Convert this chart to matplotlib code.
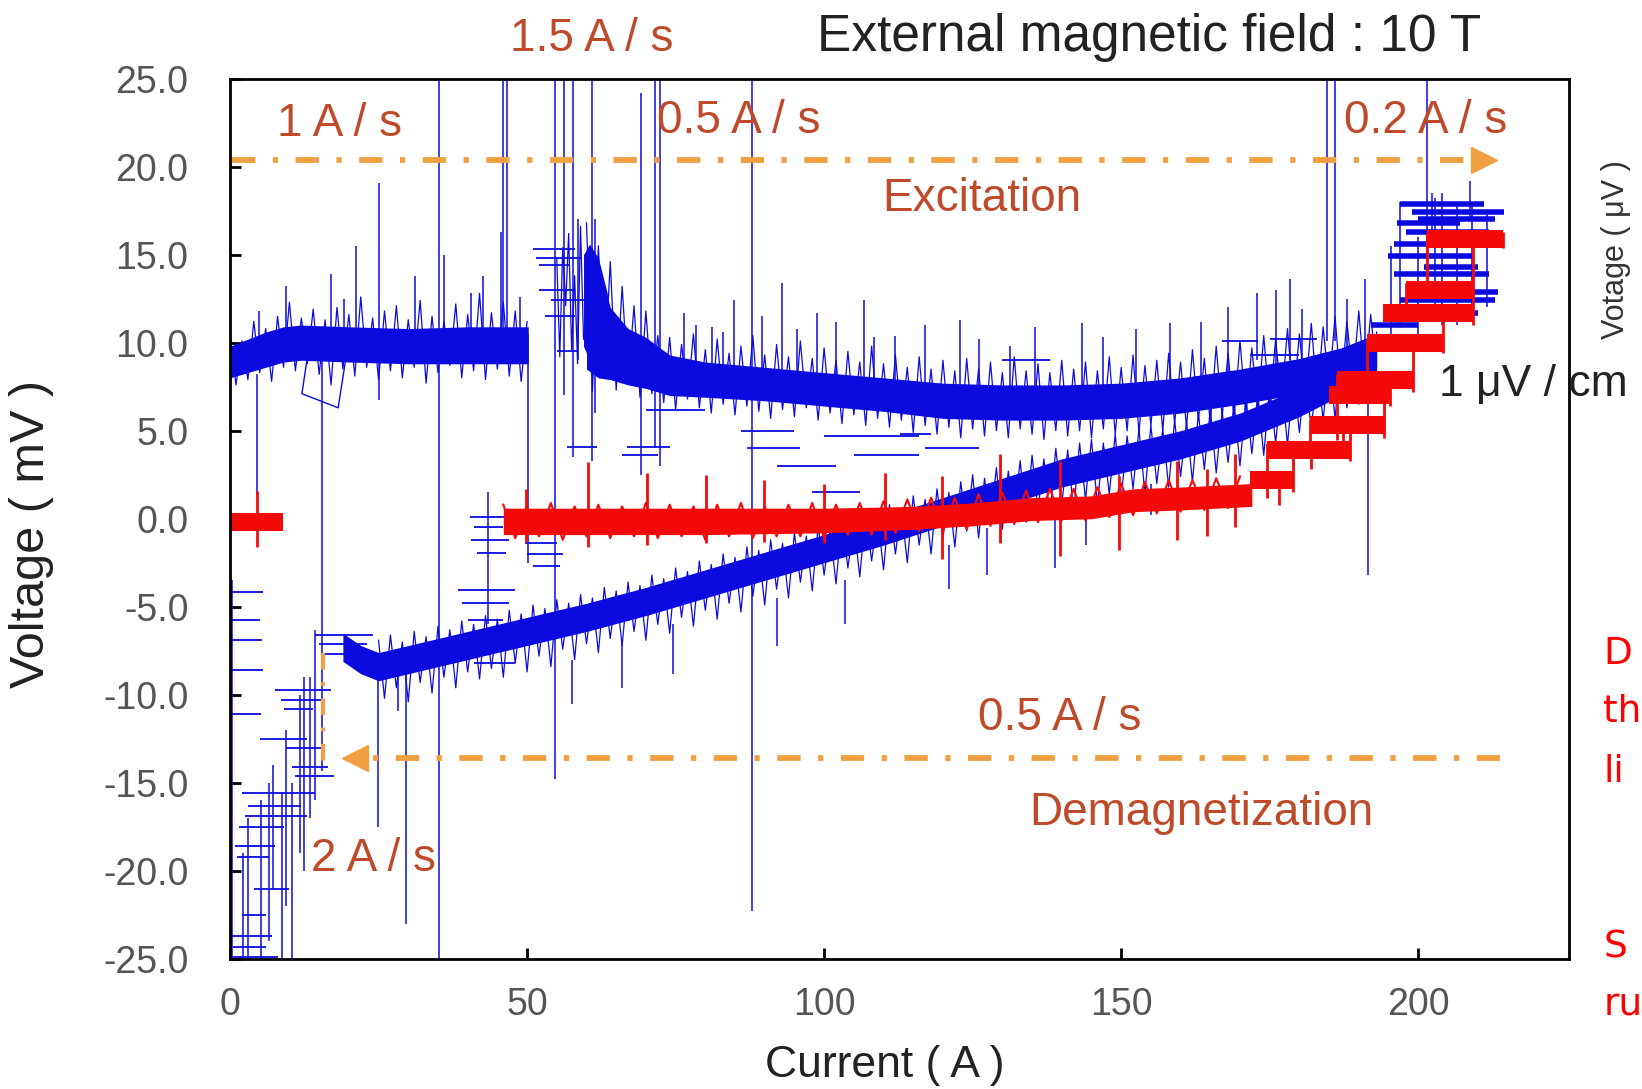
import numpy as np
import matplotlib.pyplot as plt

plt.rcParams['axes.unicode_minus'] = False
NARROW = ['Liberation Sans Narrow', 'Liberation Sans', 'DejaVu Sans']

BLUE = '#0b0be0'
RED = '#f50a0a'
ORANGE = '#f0a040'
RATE = '#bf4a2a'

# ---- values (current in A, voltage in mV) ----

# excitation, blue, 0-50 A (core of the noisy band)
ua_x = [0, 3, 6, 9, 12, 20, 30, 40, 50.2]
ua_hi = [9.8, 10.2, 10.6, 10.9, 11.0, 10.9, 10.8, 10.9, 10.9]
ua_lo = [8.0, 8.3, 8.6, 8.9, 9.0, 8.9, 8.8, 8.8, 8.8]
# sampled trace, every 1 A from 0 A
ua_trace = [10.4, 7.6, 10.1, 7.9, 11.2, 8.3, 10.8, 7.8, 11.5, 8.6, 12.3, 8.4, 11.4, 8.8, 11.9,
            8.2, 11.3, 7.6, 12.0, 8.5, 11.6, 8.1, 12.6, 8.6, 11.4, 7.9, 11.8, 8.4, 12.1, 8.0,
            11.3, 8.6, 12.4, 7.7, 11.5, 8.3, 11.2, 8.7, 12.2, 8.0, 11.6, 8.4, 12.8, 7.9, 11.7,
            8.5, 12.3, 8.1, 11.8, 7.8, 11.2]

# excitation, blue, the noisy 1.5 A/s patch
um_x = [59.5, 60.5, 62, 63.5]
um_hi = [15.0, 15.6, 14.8, 12.8]
um_lo = [9.8, 9.0, 8.6, 8.3]
# sampled trace, every 0.5 A from 55 A
um_trace = [14.8, 9.2, 15.4, 12.1, 16.2, 9.6, 13.8, 8.8, 16.6, 10.2]

# excitation, blue, 60-193 A
ub_x = [60, 62, 64, 67, 70, 74, 80, 90, 100, 110, 120, 130, 140, 150, 160, 170, 180, 187, 193]
ub_hi = [15.0, 14.5, 12.0, 10.8, 10.3, 9.3, 8.9, 8.6, 8.3, 8.0, 7.7, 7.6, 7.6, 7.7, 8.0, 8.5, 9.1, 9.7, 10.5]
ub_lo = [8.5, 8.0, 7.9, 7.6, 7.4, 7.0, 6.9, 6.7, 6.4, 6.1, 5.7, 5.6, 5.6, 5.7, 6.0, 6.5, 7.1, 7.7, 8.5]
# sampled trace, every 1 A from 60 A
ub_trace = [16.8, 7.2, 15.5, 8.0, 14.6, 7.3, 13.2, 7.8, 12.1, 6.9,
            11.8, 7.1, 10.4, 6.6, 10.3, 6.2, 9.9, 6.8, 10.5, 6.3,
            9.6, 6.0, 10.2, 6.5, 9.4, 5.9, 9.8, 6.4, 10.4, 6.1,
            9.3, 5.7, 9.9, 6.2, 9.2, 5.8, 10.1, 6.3, 9.1, 5.6,
            9.7, 6.0, 9.0, 5.4, 9.5, 5.9, 8.9, 5.3, 9.8, 5.7,
            8.8, 5.2, 9.3, 5.6, 8.6, 4.9, 9.2, 5.3, 8.5, 4.8,
            9.0, 5.2, 8.4, 4.6, 9.1, 5.1, 8.5, 4.7, 8.9, 5.0,
            8.3, 4.6, 9.2, 5.1, 8.4, 4.8, 8.8, 4.5, 8.3, 5.0,
            9.0, 4.7, 8.5, 5.0, 8.9, 4.6, 8.4, 5.1, 9.2, 4.8,
            8.6, 5.0, 9.3, 4.9, 8.7, 5.3, 9.0, 5.0, 9.4, 5.4,
            8.9, 5.2, 9.6, 5.6, 9.1, 5.4, 9.8, 5.8, 9.4, 5.7,
            10.1, 6.0, 9.7, 6.2, 10.4, 6.3, 10.2, 6.7, 10.8, 6.6,
            10.5, 7.0, 11.1, 6.9, 10.9, 7.4, 11.5, 7.3, 11.2, 7.8,
            11.8, 7.7, 11.6, 8.2]

# demagnetization, blue, 19-193 A
lb_x = [19, 22, 25, 30, 40, 50, 60, 70, 80, 90, 100, 110, 120, 130, 140, 150, 160, 170, 180, 187, 193]
lb_hi = [-6.5, -7.2, -7.6, -7.2, -6.4, -5.6, -4.8, -3.9, -2.9, -1.9, -0.9, 0.1, 1.2, 2.3, 3.4,
         4.2, 5.0, 6.0, 7.4, 8.6, 9.8]
lb_lo = [-8.1, -8.8, -9.2, -8.8, -8.0, -7.2, -6.4, -5.5, -4.5, -3.5, -2.5, -1.5, -0.4, 0.7, 1.8,
         2.6, 3.4, 4.4, 5.8, 7.0, 8.2]
# sampled trace, every 1 A from 25 A
lb_trace = [-6.9, -10.2, -6.6, -9.6, -7.0, -10.4, -6.4, -9.3, -6.7, -9.9,
            -6.1, -9.0, -6.3, -9.6, -5.8, -8.7, -6.0, -9.1, -5.5, -8.5,
            -5.7, -9.0, -5.2, -8.2, -5.4, -8.7, -4.9, -7.8, -5.1, -8.4,
            -4.6, -7.4, -4.8, -8.0, -4.3, -7.1, -4.5, -7.6, -3.9, -6.8,
            -4.1, -7.2, -3.6, -6.4, -3.8, -6.9, -3.2, -6.0, -3.4, -6.5,
            -2.8, -5.6, -3.0, -6.1, -2.4, -5.2, -2.6, -5.7, -2.0, -4.8,
            -2.2, -5.3, -1.6, -4.4, -1.8, -4.9, -1.2, -4.0, -1.4, -4.5,
            -0.8, -3.6, -1.0, -4.1, -0.4, -3.2, -0.6, -3.7, 0.0, -2.8,
            -0.2, -3.3, 0.4, -2.4, 0.2, -2.9, 0.8, -2.0, 0.6, -2.5,
            1.3, -1.5, 1.1, -2.0, 1.7, -1.1, 1.5, -1.6, 2.1, -0.7,
            2.5, -1.1, 2.3, -0.2, 2.9, -0.6, 2.7, 0.2, 3.3, -0.2,
            3.6, 0.5, 3.4, 0.1, 4.0, 0.8, 3.9, 0.4, 4.3, 1.1,
            4.5, 0.8, 4.3, 1.4, 4.8, 1.1, 4.7, 1.7, 5.1, 1.4,
            5.3, 2.0, 5.1, 1.8, 5.6, 2.4, 5.5, 2.1, 6.0, 2.8,
            6.2, 2.6, 6.1, 3.2, 6.6, 3.0, 6.9, 3.7, 7.1, 3.6,
            7.5, 4.3, 7.7, 4.2, 8.1, 4.9, 8.4, 5.0, 8.7, 5.6,
            9.1, 5.7, 9.4, 6.3, 9.8, 6.5, 10.2, 7.1, 10.6]

# blue spikes and jumps: x, from, to
bs_x = [4.6, 4.8, 9.4, 15.4, 17.0, 19.2, 21.2, 25.0, 31.2, 35.1, 36.0, 40.5, 42.5, 45.6, 45.9,
        46.6, 48.8, 50.2, 54.7, 56.2, 57.8, 58.5, 60.9, 61.5, 69.1, 71.6, 72.4, 76.4, 81.1,
        84.8, 87.9, 92.9, 98.8, 106.7, 108.4, 122.9, 131.3, 143.4, 158.3, 172.8, 178.4,
        180.4, 184.6, 186.0, 191.1, 191.6, 201.4, 202.3, 208.7, 24.9, 29.7, 28.2, 138.9,
        78.5, 83.0, 89.5, 95.5, 102.0, 112.0, 117.0, 126.0, 135.5, 147.0, 152.5, 163.5,
        168.0, 176.0, 188.0,
        57.5, 66.0, 74.5, 92.0, 103.5, 121.0, 127.5, 144.0, 155.0,
        0.3, 5.2, 8.7, 10.4, 12.5, 13.5, 14.3, 11.8, 3.0, 6.5, 9.5, 2.2, 7.2, 43.5,
        197.0, 204.0, 209.0, 211.5, 200.0, 206.5, 195.5, 202.8]
bs_y0 = [1.4, 9.5, 10.0, -14.3, 10.0, 10.0, 10.0, 6.75, 10.0, -25.0, 10.0, 10.0, 10.0, 10.0,
         9.5, 9.5, 10.0, -2.5, -14.8, 7.0, 3.5, 9.0, 3.3, 6.0, 2.5, 4.0, 3.0, 8.0, 8.0,
         8.0, -22.3, 7.5, 7.5, 7.5, 7.5, 7.0, 7.0, 7.0, 7.0, 9.0, 9.0,
         9.0, 10.1, 10.1, 10.0, -3.2, 15.4, 16.0, 17.0, -17.5, -23.0, -10.9, -2.8,
         8.0, 8.0, 8.0, 7.5, 7.5, 7.0, 7.0, 7.0, 7.0, 7.0, 7.0, 7.5,
         8.0, 8.5, 9.5,
         -10.5, -9.6, -8.8, -7.2, -6.0, -4.0, -3.2, -1.5, 0.2,
         -25.0, -25.0, -25.0, -25.0, -20.0, -17.0, -16.0, -19.0, -25.0, -24.0, -22.0, -25.0,
         -21.0, -6.0,
         11.0, 11.0, 11.5, 12.0, 10.0, 11.0, 10.5, 11.5]
bs_y1 = [8.2, 11.8, 13.2, 9.0, 13.9, 12.5, 15.5, 19.05, 13.8, 25.0, 15.0, 12.8, 13.8, 16.3,
         25.0, 25.0, 12.6, 10.5, 25.0, 25.0, 25.0, 17.0, 25.0, 17.0, 24.2, 25.0, 25.0, 11.7,
         10.9, 12.4, 25.0, 13.4, 11.7, 12.4, 10.3, 11.3, 9.8, 11.1, 11.1, 12.8, 13.6,
         11.9, 25.0, 25.0, 13.6, 9.2, 25.0, 18.5, 19.2, -8.0, -8.0, -8.0, 1.0,
         11.0, 10.6, 11.5, 10.8, 11.2, 10.4, 11.0, 10.2, 10.9, 10.3, 10.8, 11.2,
         12.0, 13.0, 12.5,
         -8.0, -7.0, -6.0, -4.5, -3.5, -1.5, -0.5, 1.0, 2.0,
         -3.5, -16.0, -15.5, -15.0, -9.0, -9.0, -6.3, -10.0, -17.0, -15.0, -12.0, -19.0,
         -14.0, 1.5,
         18.0, 18.5, 18.0, 17.5, 16.0, 17.8, 15.5, 18.2]

# blue hysteresis strokes: x start, x end, level
bh_x0 = [0.3, 0.3, 0.3, 0.3, 0.3, 14.3, 15.0, 16.0, 7.6, 8.5, 9.0, 10.4, 11.0, 2.0, 3.0, 2.5,
         0.8, 1.2, 0.3, 0.5, 0.3, 1.5, 4.0, 2.0, 5.0, 9.5,
         40.4, 41.0, 40.5, 41.5, 38.4, 39.0, 40.0, 41.0, 49.7, 50.0,
         51.0, 51.0, 52.0, 52.0, 53.0, 55.0, 56.7, 66.8, 66.0, 70.0, 86.0, 87.0, 92.0, 100.0,
         105.0, 98.0, 112.8, 117.0, 130.0, 167.0, 171.7, 175.0, 51.5, 54.0]
bh_x1 = [5.5, 5.0, 5.3, 5.5, 5.2, 24.0, 23.0, 24.4, 17.0, 16.0, 14.0, 16.5, 17.5, 14.3, 12.0,
         13.0, 7.6, 6.5, 7.0, 6.0, 8.0, 9.0, 10.0, 6.0, 13.0, 15.5,
         46.6, 46.0, 47.0, 46.5, 48.0, 47.0, 46.0, 48.0, 55.0,
         56.0, 55.5, 58.0, 57.0, 58.0, 58.0, 58.5, 61.7, 74.1, 72.0, 80.0, 95.0, 96.0, 102.0,
         116.0, 116.0, 106.0, 118.0, 126.0, 138.0, 173.0, 180.0, 183.0, 59.0, 60.0]
bh_y = [-4.15, -5.75, -6.9, -8.6, -11.1, -6.6, -7.1, -7.7, -9.7, -10.3, -10.8, -14.1, -14.6,
        -15.6, -16.3, -16.9, -18.6, -19.2, -23.7, -24.3, -24.9, -17.5, -21.0, -22.5, -12.5,
        -13.0,
        0.1, -0.45, -1.2, -1.95, -4.05, -4.8, -5.75, -8.2, -1.4, -2.0, -2.7, 15.3, 14.4,
        13.0, 11.5, 9.5, 4.1, 4.1, 3.6, 6.2, 5.0, 4.0, 3.0, 4.7, 3.6, 1.5, 4.8, 4.0, 9.0,
        10.1, 9.3, 10.2, 14.8, 12.4]

# blue cluster at the top end
bc_x0 = [197.0, 199.0, 200.0, 196.0, 195.0, 196.0, 197.0, 194.0, 192.0, 198.0, 201.0, 199.0, 196.5]
bc_x1 = [211.0, 214.4, 213.0, 211.0, 209.0, 212.0, 213.0, 210.0, 200.0, 212.0, 210.0, 213.5, 207.0]
bc_y = [17.9, 17.4, 17.0, 15.6, 14.9, 13.9, 12.4, 11.7, 11.0, 16.3, 14.3, 12.9, 16.8]

# stray loop near 15 A
loop_x = [13.2, 12.1, 18.2, 19.4]
loop_y = [9.6, 7.1, 6.3, 8.9]

# red trace
rb_x = [46, 60, 80, 100, 115, 125, 135, 145, 152, 160, 172]
rb_hi = [0.6, 0.6, 0.6, 0.6, 0.7, 0.9, 1.2, 1.3, 1.7, 1.8, 2.0]
rb_lo = [-0.9, -0.9, -0.9, -0.8, -0.6, -0.4, -0.1, 0.0, 0.4, 0.5, 0.7]
# sampled trace, every 2 A from 46 A
rb_trace = [0.8, -1.1, 0.7, -1.0, 0.9, -1.2, 0.7, -1.0, 0.8, -1.1,
            0.7, -1.0, 0.9, -1.1, 0.8, -1.0, 0.7, -1.2, 0.8, -1.0,
            0.9, -1.1, 0.7, -1.0, 0.8, -1.0, 0.9, -1.1, 0.8, -0.9,
            0.9, -0.9, 1.0, -0.8, 1.1, -0.7, 1.2, -0.7, 1.2, -0.6,
            1.4, -0.4, 1.5, -0.3, 1.6, -0.2, 1.7, -0.1, 1.7, -0.1,
            1.8, 0.1, 2.0, 0.2, 2.1, 0.3, 2.2, 0.4, 2.2, 0.5,
            2.3, 0.6, 2.4]
rs_x = [4.6, 49.8, 60.3, 70.2, 80.1, 89.8, 99.9, 110.3, 119.8, 129.6, 139.7, 149.6, 159.4,
        164.4, 169.2, 179.0, 174.5, 188.5, 194.2, 195.3, 199.2, 204.2, 209.3, 214.3, 186.3,
        191.3, 181.8, 198.0, 201.4, 176.5, 182.0, 187.3]
rs_y0 = [-1.6, -1.3, -1.6, -1.5, -1.4, -1.3, -1.4, -1.2, -2.3, -1.4, -2.1, -1.8, -1.2, -1.0,
         -0.45, 1.5, 1.2, 3.3, 4.6, 6.4, 7.2, 9.4, 11.0, 15.4, 4.5, 7.4, 3.5, 11.2, 13.0, 0.8,
         2.8, 4.2]
rs_y1 = [1.55, 1.7, 3.2, 2.6, 2.5, 2.2, 2.0, 2.6, 2.4, 3.7, 3.3, 2.4, 3.3, 2.8, 3.7, 4.3, 4.3,
         5.7, 7.4, 8.3, 10.4, 12.1, 16.3, 16.3, 8.2, 10.2, 5.6, 13.4, 16.2, 2.2, 4.0, 5.3]
# red steps at the top end: x start, x end, level
rst_x0 = [0.2, 171.7, 174.5, 181.8, 185.0, 186.3, 191.3, 194.1, 198.0, 201.4]
rst_x1 = [8.9, 179.0, 188.5, 194.2, 195.3, 199.2, 204.2, 209.3, 209.3, 214.3]
rst_y = [-0.2, 2.2, 3.9, 5.3, 7.0, 7.9, 10.0, 11.7, 13.0, 15.9]

# guide arrows
exc_x = [0.3, 211.0]
exc_y = 20.4
dem_x = [213.7, 21.0]
dem_y = -13.6
dem_tick_x = 15.7
dem_tick_y = [-7.6, -14.3]

fig = plt.figure(figsize=(16.42, 10.89), dpi=100)
ax = fig.add_axes([0.1401, 0.1194, 0.8155, 0.8085])

# blue
for xs, lo, hi in [(ua_x, ua_lo, ua_hi), (um_x, um_lo, um_hi), (ub_x, ub_lo, ub_hi), (lb_x, lb_lo, lb_hi)]:
    ax.fill_between(xs, lo, hi, color=BLUE, lw=0, zorder=2)
ax.plot(np.arange(len(ua_trace)) + 0, ua_trace, color=BLUE, lw=0.9, zorder=2)
ax.plot(np.arange(len(um_trace)) * 0.5 + 55, um_trace, color=BLUE, lw=0.9, zorder=2)
ax.plot(np.arange(len(ub_trace)) + 60, ub_trace, color=BLUE, lw=0.9, zorder=2)
ax.plot(np.arange(len(lb_trace)) + 25, lb_trace, color=BLUE, lw=0.9, zorder=2)
ax.vlines(bs_x, bs_y0, bs_y1, color=BLUE, lw=1.1, zorder=2)
ax.hlines(bh_y, bh_x0, bh_x1, color=BLUE, lw=1.3, zorder=2)
ax.hlines(bc_y, bc_x0, bc_x1, color=BLUE, lw=4.0, zorder=2)
ax.plot(loop_x, loop_y, color=BLUE, lw=1.0, zorder=2)

# red
ax.fill_between(rb_x, rb_lo, rb_hi, color=RED, lw=0, zorder=3)
ax.plot(np.arange(len(rb_trace)) * 2 + 46, rb_trace, color=RED, lw=1.5, zorder=3)
ax.vlines(rs_x, rs_y0, rs_y1, color=RED, lw=2.0, zorder=3)
ax.hlines(rst_y, rst_x0, rst_x1, color=RED, lw=13, zorder=3)

# arrows
for xs, y, mk in [(exc_x, exc_y, '>'), (dem_x, dem_y, '<')]:
    ln, = ax.plot(xs, [y, y], color=ORANGE, lw=4.2, zorder=4)
    ln.set_dashes([4.0, 3.0, 0.9, 3.0])
    ax.plot([xs[1]], [y], marker=mk, color=ORANGE, ms=19, zorder=4, clip_on=False)
ln, = ax.plot([dem_tick_x, dem_tick_x], dem_tick_y, color=ORANGE, lw=3.0, zorder=4)
ln.set_dashes([4.0, 3.0, 0.9, 3.0])

ax.set_xlim(0, 225.4)
ax.set_ylim(-25, 25)
ax.set_xticks([0, 50, 100, 150, 200])
ax.set_xticklabels(['0', '50', '100', '150', '200'])
yt = np.arange(-25, 26, 5)
ax.set_yticks(yt)
ax.set_yticklabels(['%.1f' % v for v in yt])
ax.tick_params(direction='in', length=8, width=2, labelsize=27, labelcolor='#555555')
ax.tick_params(axis='y', pad=30)
ax.tick_params(axis='x', pad=20)
for lab in ax.get_xticklabels() + ax.get_yticklabels():
    lab.set_family(NARROW)
for s in ax.spines.values():
    s.set_linewidth(2.0)
    s.set_zorder(5)

ax.set_xlabel('Current ( A )', fontsize=32, family=NARROW, color='#222222')
ax.set_ylabel('Voltage ( mV )', fontsize=35, family=NARROW, color='#222222')
ax.xaxis.set_label_coords(0.489, -0.1215)
ax.xaxis.label.set_va('center')
ax.yaxis.set_label_coords(-0.148, 0.483)
ax.yaxis.label.set_va('center')

# rate labels
for txt, x, y in [('1 A / s', 18.5, 22.4), ('0.5 A / s', 85.7, 22.6), ('0.2 A / s', 201.3, 22.6),
                  ('Excitation', 126.6, 18.16), ('0.5 A / s', 139.7, -11.3),
                  ('Demagnetization', 163.5, -16.7), ('2 A / s', 24.2, -19.3)]:
    ax.text(x, y, txt, fontsize=33, family=NARROW, color=RATE, ha='center', va='center', zorder=6)

fig.text(0.3605, 0.9642, '1.5 A / s', fontsize=33, family=NARROW, color=RATE, ha='center', va='center')
fig.text(0.6998, 0.966, 'External magnetic field : 10 T', fontsize=37, family=NARROW,
         color='#222222', ha='center', va='center')
fig.text(0.984, 0.771, 'Votage ( μV )', fontsize=22, family=NARROW, color='#333333',
         rotation=90, ha='center', va='center')
fig.text(0.934, 0.6465, '1 μV / cm', fontsize=32, family=['Liberation Sans', 'DejaVu Sans'],
         color='#222222', ha='center', va='center')
# fragments of a slide text that the reference crops at its right edge
for txt, y in [('D', 0.3995), ('th', 0.346), ('li', 0.291), ('S', 0.1295), ('ru', 0.0771)]:
    fig.text(0.9765, y, txt, fontsize=27, family='DejaVu Sans', color='#ff0000', ha='left', va='center')

fig.savefig('out.png', dpi=100)
